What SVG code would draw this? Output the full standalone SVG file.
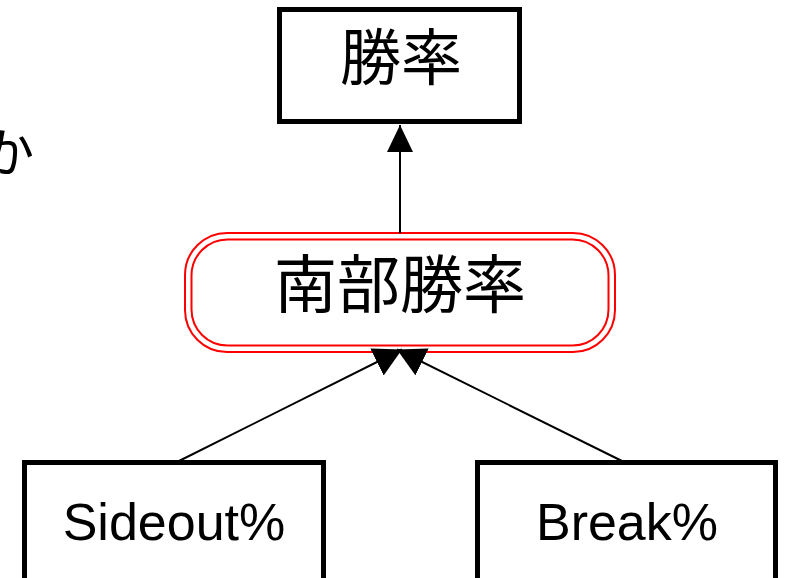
<svg xmlns="http://www.w3.org/2000/svg" width="787" height="578" viewBox="0 0 787 578">
<defs>
<style>
.box{fill:#fff;stroke:#000;stroke-width:5}
.jp{font-family:"Noto Sans CJK JP","Noto Sans",sans-serif;fill:#000}
.en{font-family:"Liberation Sans",Arial,sans-serif;fill:#000}
.edge{stroke:#000;stroke-width:2;fill:none}
.red{fill:none;stroke:#f00;stroke-width:2}
</style>
<marker id="arrTop" markerUnits="userSpaceOnUse" markerWidth="28" markerHeight="27" refX="27" refY="13" orient="auto" viewBox="0 0 28 27">
<path d="M0,0 L27,13 L0,26 z" fill="#000"/>
</marker>
<marker id="arr" markerUnits="userSpaceOnUse" markerWidth="29" markerHeight="31" refX="28" refY="15" orient="auto" viewBox="0 0 29 31">
<path d="M0,0 L28,15 L0,30 z" fill="#000"/>
</marker>
</defs>
<rect width="787" height="578" fill="#fff"/>
<text class="jp" x="-18" y="172" font-size="52">か</text>
<g id="node-shoritsu">
<rect class="box" x="279.5" y="9.5" width="240" height="112"/>
<text class="jp" x="401" y="80" font-size="61" text-anchor="middle">勝率</text>
</g>
<g id="node-nanbu">
<rect x="185" y="233" width="430" height="119" rx="42" fill="#fff" stroke="#f00" stroke-width="2"/>
<rect class="red" x="191.5" y="239.5" width="417" height="106" rx="36"/>
<text class="jp" x="400" y="307" font-size="63" text-anchor="middle">南部勝率</text>
</g>
<g id="node-sideout">
<rect class="box" x="24.5" y="462.5" width="299" height="130"/>
<text class="en" x="174" y="540" font-size="52" text-anchor="middle">Sideout%</text>
</g>
<g id="node-break">
<rect class="box" x="477.5" y="462.5" width="298" height="130"/>
<text class="en" x="627" y="540" font-size="52" text-anchor="middle">Break%</text>
</g>
<g id="connectors">
<line class="edge" x1="400" y1="233" x2="400" y2="125" marker-end="url(#arrTop)"/>
<line class="edge" x1="177" y1="462" x2="402" y2="349.5" marker-end="url(#arr)"/>
<line class="edge" x1="624" y1="462" x2="397" y2="349.5" marker-end="url(#arr)"/>
</g>
</svg>
